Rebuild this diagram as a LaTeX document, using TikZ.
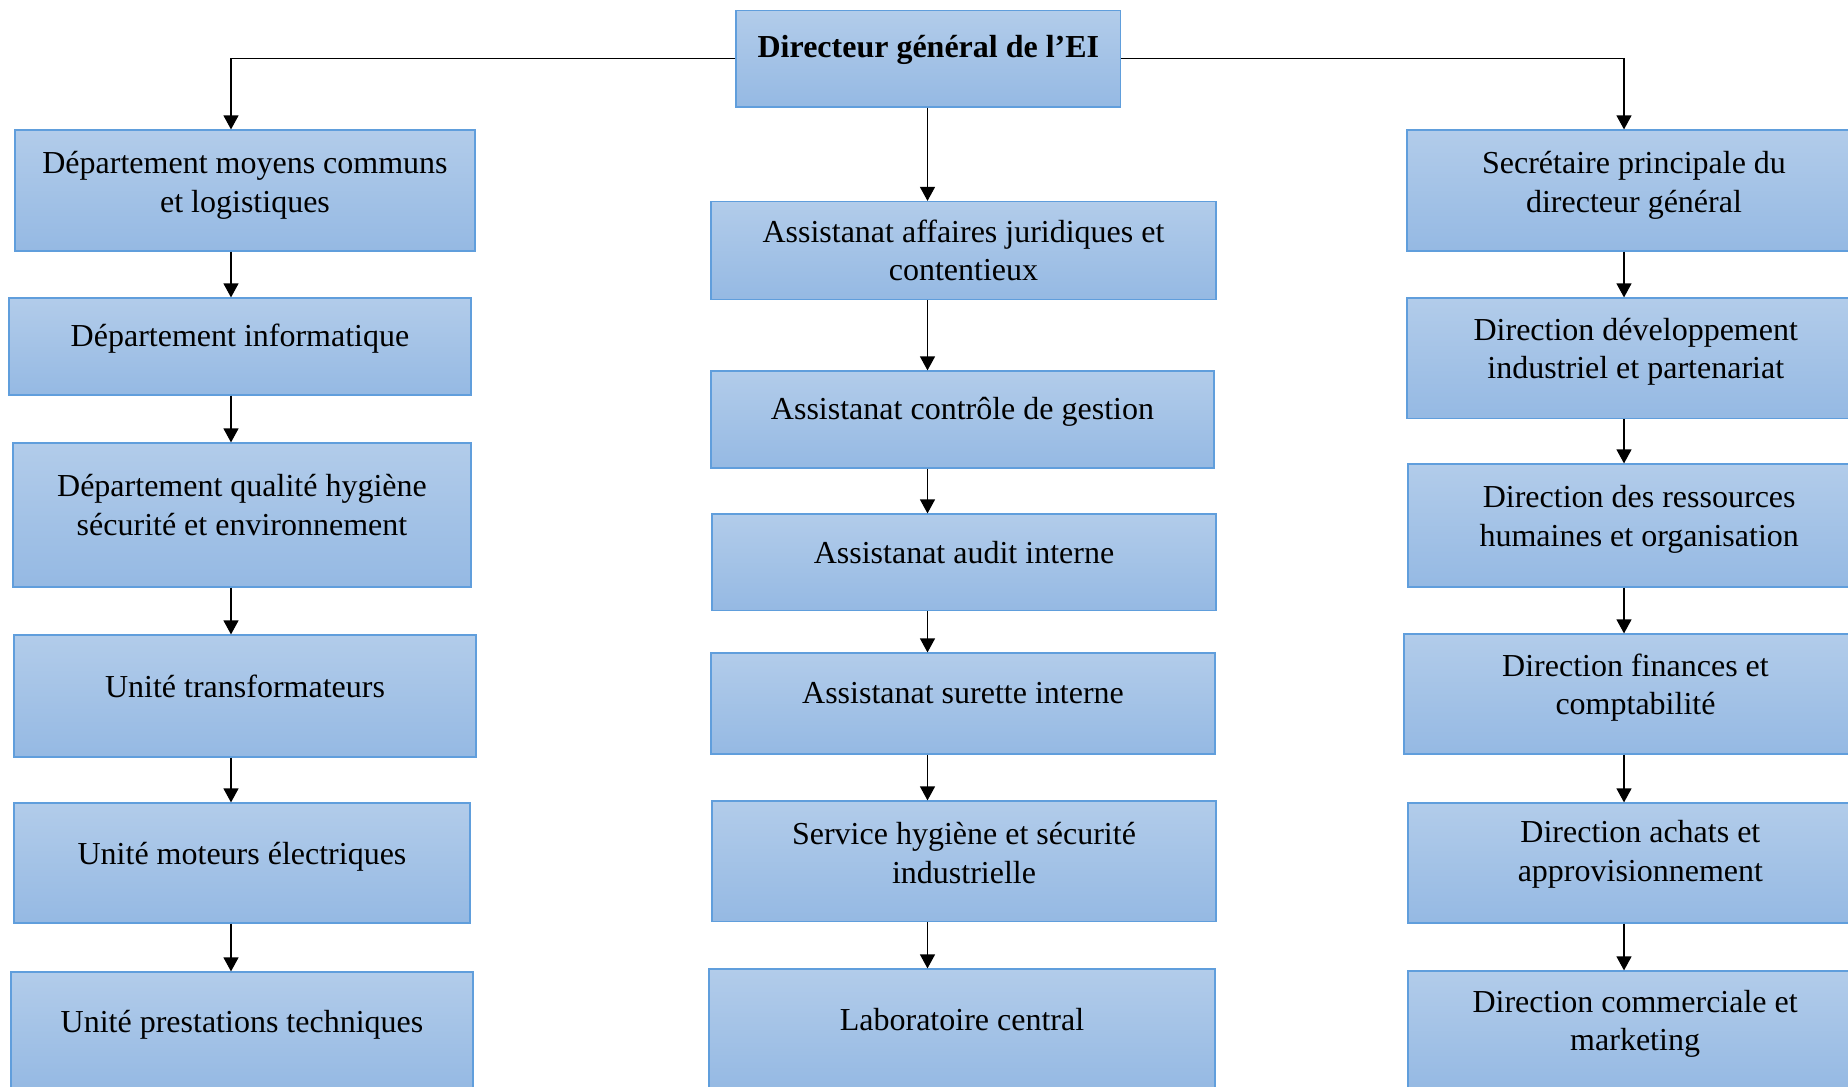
\documentclass[tikz,border=0pt]{standalone}
\usepackage{fontspec}
\setmainfont{Liberation Serif}
\usetikzlibrary{arrows.meta,calc}
\definecolor{boxtop}{RGB}{178,204,234}
\definecolor{boxbot}{RGB}{149,185,227}
\definecolor{boxline}{RGB}{96,158,220}
\tikzset{
  unitbox/.style={draw=boxline, line width=0.6pt, top color=boxtop, bottom color=boxbot, inner sep=0pt},
  caption/.style={align=center, font=\fontsize{16}{19.3}\selectfont, inner sep=0pt},
  link/.style={line width=0.6pt, -{Triangle[width=7.5pt,length=7pt]}},
}
% \orgbox{name}{x1}{y1}{x2}{y2}{text lift}{text}
\newcommand\orgbox[7]{%
  \node[unitbox, minimum width={(#4-#2)*0.5pt}, minimum height={(#5-#3)*0.5pt}] (#1) at ({(#2+#4)/2},{(#3+#5)/2}) {};
  \node[caption] (#1t) at ([yshift=#6]#1.center) {#7};}
\begin{document}
\begin{tikzpicture}[x=0.5pt,y=-0.5pt]
\clip (0,0) rectangle (1848,1087);
\fill[white] (0,0) rectangle (1848,1087);

% head of the organisation
\orgbox{top}{736}{10.6}{1120.8}{107}{4.25pt}{\textbf{Directeur général de l’EI}}

% left column
\orgbox{L1}{15}{130}{475}{251}{2.65pt}{Département moyens communs\\et logistiques}
\orgbox{L2}{9}{298}{471}{395}{3.8pt}{Département informatique}
\orgbox{L3}{13}{443}{471}{587}{5pt}{Département qualité hygiène\\sécurité et environnement}
\orgbox{L4}{14}{635}{476}{757}{5pt}{Unité transformateurs}
\orgbox{L5}{14}{803}{470}{923}{3.25pt}{Unité moteurs électriques}
\orgbox{L6}{11}{972}{473}{1090}{3.25pt}{Unité prestations techniques}

% middle column
\orgbox{M1}{711}{201.5}{1216}{299.4}{0pt}{Assistanat affaires juridiques et\\contentieux}
\orgbox{M2}{711}{371}{1214}{468}{3.8pt}{Assistanat contrôle de gestion}
\orgbox{M3}{712}{514}{1216}{610.5}{5pt}{Assistanat audit interne}
\orgbox{M4}{711}{653}{1215}{754}{5pt}{Assistanat surette interne}
\orgbox{M5}{712}{801}{1216}{921.6}{4pt}{Service hygiène et sécurité\\industrielle}
\orgbox{M6}{709}{969}{1215}{1090}{5pt}{Laboratoire central}

% right column
\orgbox{R1}{1407}{130}{1861}{251}{2.65pt}{Secrétaire principale du\\directeur général}
\orgbox{R2}{1407}{298}{1864.5}{418.4}{3.3pt}{Direction développement\\industriel et partenariat}
\orgbox{R3}{1408}{464}{1870.4}{587}{3.15pt}{Direction des ressources\\humaines et organisation}
\orgbox{R4}{1404}{634}{1867}{754}{3.25pt}{Direction finances et\\comptabilité}
\orgbox{R5}{1408}{803}{1872.8}{923}{4.3pt}{Direction achats et\\approvisionnement}
\orgbox{R6}{1408}{971}{1862.2}{1090}{3.25pt}{Direction commerciale et\\marketing}

% vertical lanes of the connectors
\coordinate (xL) at (231,0);
\coordinate (xM) at (927.5,0);
\coordinate (xR) at (1624,0);

\draw[link] (top.west) -| (L1.north -| xL);
\draw[link] (top.east) -| (R1.north -| xR);
\draw[link] (top.south -| xM) -- (M1.north -| xM);

\foreach \a/\b in {L1/L2,L2/L3,L3/L4,L4/L5,L5/L6}
  \draw[link] (\a.south -| xL) -- (\b.north -| xL);
\foreach \a/\b in {M1/M2,M2/M3,M3/M4,M4/M5,M5/M6}
  \draw[link] (\a.south -| xM) -- (\b.north -| xM);
\foreach \a/\b in {R1/R2,R2/R3,R3/R4,R4/R5,R5/R6}
  \draw[link] (\a.south -| xR) -- (\b.north -| xR);
\end{tikzpicture}
\end{document}
